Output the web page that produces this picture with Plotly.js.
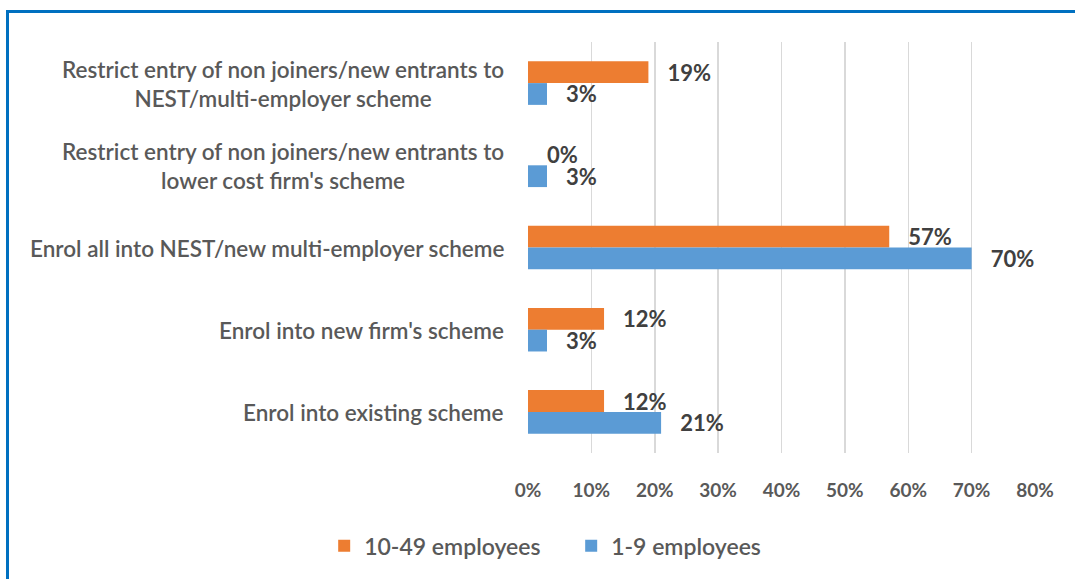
<!DOCTYPE html>
<html>
<head>
<meta charset="utf-8">
<script src="https://cdn.plot.ly/plotly-3.0.1.min.js"></script>
<style>
  html, body { margin: 0; padding: 0; background: #ffffff; }
  #wrap { position: relative; width: 1075px; height: 579px; overflow: hidden; }
  #chart { position: absolute; left: 0; top: 0; width: 1075px; height: 579px; }
  #frame { position: absolute; left: 6px; top: 10px; width: 1200px; height: 700px;
           border-left: 3px solid #0070C0; border-top: 3px solid #0070C0; pointer-events: none; }
</style>
</head>
<body>
<div id="wrap">
  <div id="chart"></div>
  <div id="frame"></div>
</div>
<script>
// Categories, top to bottom as shown
const categories = [
  "Restrict entry of non joiners/new entrants to<br>NEST/multi-employer scheme",
  "Restrict entry of non joiners/new entrants to<br>lower cost firm's scheme",
  "Enrol all into NEST/new multi-employer scheme",
  "Enrol into new firm's scheme",
  "Enrol into existing scheme"
];
const seriesNames = ["10-49 employees", "1-9 employees"];
const values1049 = [19, 0, 57, 12, 12];
const values19 = [3, 3, 70, 3, 21];
const xTicks = [0, 10, 20, 30, 40, 50, 60, 70, 80];

const FAM = "Lato, 'Open Sans', sans-serif";
const pad = "\u00a0\u00a0\u00a0";
const labelFont = {family: FAM, size: 22, color: "#404040", weight: 700};

const traces = [
  {
    type: "bar", orientation: "h", name: seriesNames[0],
    y: categories, x: values1049,
    marker: {color: "#ED7D31"},
    text: values1049.map(v => pad + v + "%"),
    textposition: "outside", constraintext: "none", cliponaxis: false,
    textfont: labelFont, hoverinfo: "skip"
  },
  {
    type: "bar", orientation: "h", name: seriesNames[1],
    y: categories, x: values19,
    marker: {color: "#5B9BD5"},
    text: values19.map(v => pad + v + "%"),
    textposition: "outside", constraintext: "none", cliponaxis: false,
    textfont: labelFont, hoverinfo: "skip"
  }
];

const annotations = categories.map(c => ({
  xref: "paper", yref: "y", x: 0, y: c, xanchor: "right", yanchor: "middle",
  xshift: -22, yshift: -1, text: c, showarrow: false, align: "center",
  font: {family: FAM, size: 22.5, color: "#595959", weight: 600}
}));

const layout = {
  width: 1075, height: 579,
  margin: {l: 528, r: 40, t: 42, b: 119},
  paper_bgcolor: "#ffffff", plot_bgcolor: "#ffffff",
  barmode: "group", bargap: 0.47, bargroupgap: 0,
  showlegend: true,
  legend: {
    orientation: "h", x: -0.402, xanchor: "left", y: -0.226, yanchor: "middle",
    font: {family: FAM, size: 23, color: "#595959", weight: 600},
    itemwidth: 30, entrywidth: 202, entrywidthmode: "pixels"
  },
  xaxis: {
    range: [0, 80], tickvals: xTicks, ticktext: xTicks.map(v => v + "%"),
    showgrid: true, gridcolor: "#d9d9d9", gridwidth: 1.5, zeroline: false,
    showline: false, ticks: "", ticklabelstandoff: 24,
    tickfont: {family: FAM, size: 19, color: "#595959", weight: 700},
    fixedrange: true
  },
  yaxis: {
    type: "category", autorange: "reversed", showticklabels: false,
    showgrid: false, zeroline: false, showline: false, ticks: "", fixedrange: true
  },
  annotations: annotations
};

Plotly.newPlot("chart", traces, layout, {displayModeBar: false, staticPlot: true});
</script>
</body>
</html>
